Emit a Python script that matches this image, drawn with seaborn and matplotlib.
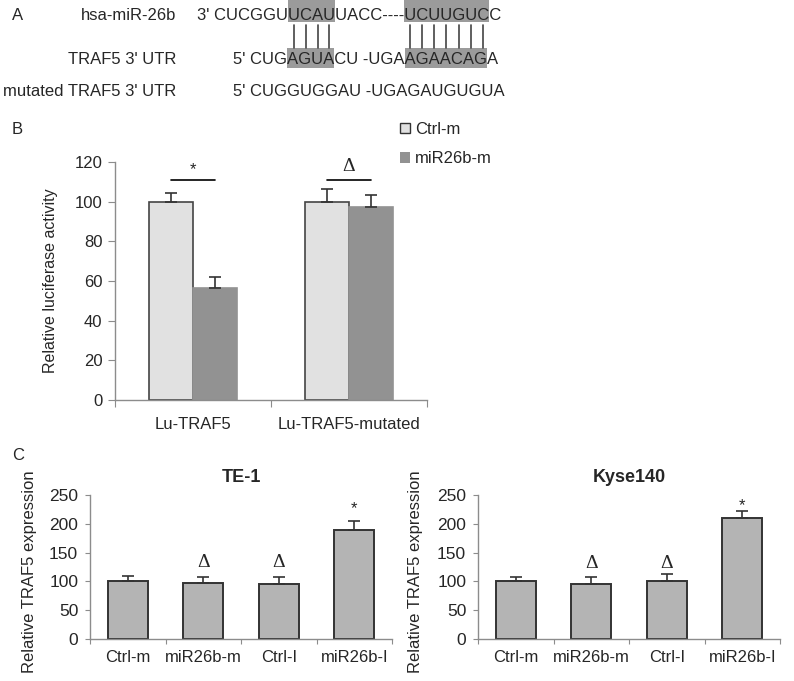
import numpy as np
import pandas as pd
import seaborn as sns
import matplotlib.pyplot as plt
from matplotlib.patches import Patch, Rectangle
from matplotlib.lines import Line2D

# ---- data ----
# panel A sequences (index ranges are highlighted / paired bases)
mir_label = "hsa-miR-26b"
mir_seq = "3' CUCGGUUCAUUACC----UCUUGUCC"
mir_hl = [(9, 13), (21, 28)]
utr_label = "TRAF5 3' UTR"
utr_seq = "5' CUGAGUACU -UGAAGAACAGA"
utr_hl = [(6, 10), (17, 24)]
mut_label = "mutated TRAF5 3' UTR"
mut_seq = "5' CUGGUGGAU -UGAGAUGUGUA"

# panel B: luciferase assay
lu_constructs = ["Lu-TRAF5", "Lu-TRAF5-mutated"]
lu_groups = ["Ctrl-m", "miR26b-m"]
lu_ctrl = [100, 100]
lu_mir = [56.5, 97.5]
lu_ctrl_err = [4.5, 6.5]
lu_mir_err = [5.6, 5.7]
lu_marks = ["*", "\u0394"]

# panel C: TRAF5 expression
c_groups = ["Ctrl-m", "miR26b-m", "Ctrl-I", "miR26b-I"]
te1_vals = [100, 98, 95, 190]
te1_err = [10, 10, 13, 14]
kyse_vals = [100, 95, 100, 210]
kyse_err = [7, 13, 12, 12]
c_marks = ["", "\u0394", "\u0394", "*"]
te1_mark_y = [0, 133, 133, 226]
kyse_mark_y = [0, 131, 131, 232]

W, H = 794, 681
sns.set_style("white")
plt.rcParams['font.family'] = ['Liberation Sans', 'DejaVu Sans']
plt.rcParams['font.size'] = 12

fig = plt.figure(figsize=(W / 100, H / 100), dpi=100)
renderer = fig.canvas.get_renderer()

def fx(x):
    return x / W

def fy(y):
    return 1 - y / H

def text_adv(s, fp):
    # advance width in px (ink width of "I"+s+"I" minus "II")
    w1 = renderer.get_text_width_height_descent("I" + s + "I", fp, ismath=False)[0]
    w0 = renderer.get_text_width_height_descent("II", fp, ismath=False)[0]
    return w1 - w0

def seq_row(x0, y, seq, hl=None, box=None):
    t = fig.text(fx(x0), fy(y), seq, fontsize=12, ha='left', va='center', zorder=3)
    fp = t.get_fontproperties()
    centers = []
    for a, b in (hl or []):
        xa = x0 + text_adv(seq[:a], fp)
        xb = x0 + text_adv(seq[:b], fp)
        fig.add_artist(Rectangle((fx(xa), fy(box[1])), (xb - xa) / W, (box[1] - box[0]) / H,
                                 transform=fig.transFigure, facecolor='#9b9b9b',
                                 edgecolor='none', zorder=1))
        for k in range(a, b):
            centers.append(x0 + text_adv(seq[:k], fp) + text_adv(seq[k], fp) / 2)
    return centers

# ---- panel A ----
fig.text(fx(12), fy(16), "A", fontsize=12, ha='left', va='center')
fig.text(fx(176), fy(16), mir_label, fontsize=12, ha='right', va='center')
fig.text(fx(176), fy(59), utr_label, fontsize=12, ha='right', va='center')
fig.text(fx(176), fy(92), mut_label, fontsize=12, ha='right', va='center')
pair_x = seq_row(197, 16, mir_seq, mir_hl, (0, 22))
seq_row(233, 59, utr_seq, utr_hl, (48, 68))
seq_row(233, 92, mut_seq)
for x in pair_x:
    fig.add_artist(Line2D([fx(x), fx(x)], [fy(25), fy(48)], transform=fig.transFigure,
                          color='#444444', lw=1.2))

spine_col = '#8c8c8c'

def style_axis(ax, ncat, pad, tlen):
    sns.despine(ax=ax)
    for s in ['left', 'bottom']:
        ax.spines[s].set_color(spine_col)
        ax.spines[s].set_linewidth(1.0)
    ax.set_xlim(-0.5, ncat - 0.5)
    ax.set_xticks(np.arange(-0.5, ncat, 1.0))
    ax.set_xticklabels([])
    ax.tick_params(axis='x', which='major', length=tlen, color=spine_col, direction='out', bottom=True)
    ax.tick_params(axis='y', length=tlen, color=spine_col, direction='out', left=True,
                   labelsize=12, pad=4)
    ax.set_xticks(np.arange(ncat), minor=True)
    ax.tick_params(axis='x', which='minor', length=0, labelsize=12, pad=pad)
    ax.set_xlabel("")

# ---- panel B ----
axb = fig.add_axes([fx(115), fy(400), 312 / W, 238 / H])
dfb = pd.DataFrame({
    "construct": lu_constructs * 2,
    "group": [lu_groups[0]] * 2 + [lu_groups[1]] * 2,
    "value": lu_ctrl + lu_mir,
})
sns.barplot(data=dfb, x="construct", y="value", hue="group", order=lu_constructs,
            hue_order=lu_groups, palette=['#e1e1e1', '#929292'], width=0.56,
            gap=0, linewidth=1.2, edgecolor='#444444', legend=False, ax=axb)
bars = [p for p in axb.patches if p.get_height() > 0]
errs = lu_ctrl_err + lu_mir_err
centers = []
for i, p in enumerate(bars):
    cx = p.get_x() + p.get_width() / 2
    centers.append(cx)
    if i >= 2:
        p.set_edgecolor('#929292')
    axb.errorbar(cx, p.get_height(), yerr=[[0], [errs[i]]], fmt='none',
                 ecolor='#333333', elinewidth=1.2, capsize=4, capthick=1.2, zorder=4)
for j in range(2):
    x1, x2 = centers[j], centers[j + 2]
    axb.plot([x1, x2], [111, 111], color='black', lw=1.2)
    if lu_marks[j] == "*":
        axb.text((x1 + x2) / 2, 116, "*", ha='center', va='center', fontsize=12)
    else:
        axb.text((x1 + x2) / 2, 117.5, lu_marks[j], ha='center', va='center', fontsize=14,
                 family=['Liberation Serif', 'DejaVu Serif'])
axb.set_ylim(0, 120)
axb.set_yticks(np.arange(0, 121, 20))
style_axis(axb, 2, 12, 5)
axb.set_xticklabels(lu_constructs, minor=True)
axb.set_ylabel("Relative luciferase activity", fontsize=11.5)
axb.yaxis.set_label_coords(-0.183, 0.5)
axb.legend(handles=[Patch(facecolor='#e1e1e1', edgecolor='#333333', lw=1.0),
                    Patch(facecolor='#929292', edgecolor='none')],
           labels=lu_groups, loc='upper left', bbox_to_anchor=(fx(400), fy(122)),
           bbox_transform=fig.transFigure, frameon=False, fontsize=12,
           handlelength=0.6, handleheight=0.6, handletextpad=0.3, labelspacing=0.85,
           borderpad=0, borderaxespad=0)
fig.text(fx(12), fy(130), "B", fontsize=12, ha='left', va='center')

# ---- panel C ----
fig.text(fx(12), fy(456), "C", fontsize=12, ha='left', va='center')

def expr_panel(left, vals, err, mark_y, title, lab_x):
    ax = fig.add_axes([fx(left), fy(639), 302 / W, 144 / H])
    sns.barplot(x=c_groups, y=vals, color='#b4b4b4', saturation=1, width=0.53,
                linewidth=1.4, edgecolor='#333333', ax=ax)
    for i, p in enumerate(ax.patches):
        cx = p.get_x() + p.get_width() / 2
        ax.errorbar(cx, p.get_height(), yerr=[[0], [err[i]]], fmt='none',
                    ecolor='#333333', elinewidth=1.2, capsize=4, capthick=1.2, zorder=4)
        if c_marks[i] == "*":
            ax.text(cx, mark_y[i], "*", ha='center', va='center', fontsize=12)
        elif c_marks[i]:
            ax.text(cx, mark_y[i], c_marks[i], ha='center', va='center', fontsize=14,
                    family=['Liberation Serif', 'DejaVu Serif'])
    ax.set_ylim(0, 250)
    ax.set_yticks(np.arange(0, 251, 50))
    style_axis(ax, 4, 8, 3.5)
    ax.set_xticklabels(c_groups, minor=True)
    ax.tick_params(axis='y', labelsize=12.5, pad=5)
    ax.set_ylabel("Relative TRAF5 expression", fontsize=12)
    ax.yaxis.set_label_coords((lab_x - left) / 302, 0.47)
    ax.set_title(title, fontsize=13, fontweight='bold', pad=9)
    return ax

expr_panel(90, te1_vals, te1_err, te1_mark_y, "TE-1", 37)
expr_panel(478, kyse_vals, kyse_err, kyse_mark_y, "Kyse140", 423)

fig.savefig("out.png", dpi=100)
